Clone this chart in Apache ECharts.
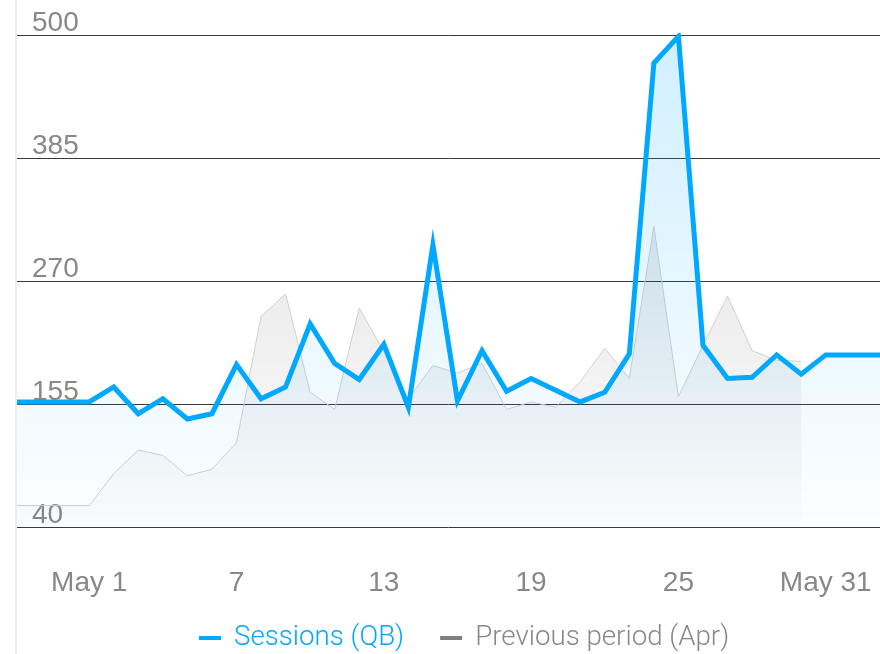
<!DOCTYPE html>
<html>
<head>
<meta charset="utf-8">
<title>Sessions (QB) – May</title>
<script src="https://cdn.jsdelivr.net/npm/echarts@6/dist/echarts.min.js"></script>
<style>
  html, body { margin: 0; padding: 0; background: #fff; }
  #wrap { position: relative; width: 880px; height: 654px; overflow: hidden; }
  #edge { position: absolute; left: 15px; top: 0; width: 2px; height: 654px; background: #ececec; }
  #chart { position: absolute; left: 0; top: 0; width: 880px; height: 654px; }
</style>
</head>
<body>
<div id="wrap">
  <div id="edge"></div>
  <div id="chart"></div>
</div>
<script>
// Day of month for each point (May 1 .. May 31)
const days = [1,2,3,4,5,6,7,8,9,10,11,12,13,14,15,16,17,18,19,20,21,22,23,24,25,26,27,28,29,30,31];

// Daily sessions, May
const sessions = [157,171,146,160,141,146,192,160,171,230,193,178,211,152,304,158,205,167,179,168,157,166,202,474,499,210,179,180,201,183,201];

// Daily sessions, previous period (April, 30 days)
const previous = [60,90,112,107,88,94,119,237,258,166,150,245,204,160,191,184,193,150,157,152,176,207,179,321,162,210,256,205,196,195];

// Axis ticks
const xTickDays = [1, 7, 13, 19, 25, 31];
const xTickLabels = ['May 1', '7', '13', '19', '25', 'May 31'];
const yTicks = [40, 155, 270, 385, 500];

const seriesNames = ['Sessions (QB)', 'Previous period (Apr)'];

// The plot runs a little past the first and last day on each side
const xMin = 1 - 2.94;
const xMax = 31 + 2.21;

const BLUE = '#00a8ff';
const GREY_TEXT = '#888888';

// Each line is held flat out to the plot edges
const sessionData = [[xMin, sessions[0]]]
  .concat(days.map((d, i) => [d, sessions[i]]))
  .concat([[xMax, sessions[sessions.length - 1]]]);

const previousData = [[xMin, previous[0]]]
  .concat(previous.map((v, i) => [days[i], v]));

const chart = echarts.init(document.getElementById('chart'), null, { renderer: 'canvas' });

chart.setOption({
  animation: false,
  grid: { left: 17, right: 0, top: 35.3, bottom: 127, containLabel: false },
  xAxis: {
    type: 'value',
    min: xMin,
    max: xMax,
    axisLine: { show: false },
    axisTick: { show: false },
    splitLine: { show: false },
    axisLabel: {
      customValues: xTickDays,
      margin: 42,
      color: GREY_TEXT,
      fontFamily: 'Liberation Sans, Arial, sans-serif',
      fontSize: 28,
      formatter: (v) => xTickLabels[xTickDays.indexOf(Math.round(v))] || ''
    }
  },
  yAxis: {
    type: 'value',
    min: yTicks[0],
    max: yTicks[yTicks.length - 1],
    interval: yTicks[1] - yTicks[0],
    axisLine: { show: false },
    axisTick: { show: false },
    splitLine: { show: true, lineStyle: { color: '#3a3a3a', width: 1 } },
    axisLabel: {
      inside: true,
      margin: 15,
      verticalAlign: 'bottom',
      color: GREY_TEXT,
      fontFamily: 'Liberation Sans, Arial, sans-serif',
      fontSize: 28,
      padding: [0, 0, -2, 0]
    }
  },
  legend: {
    left: 194,
    top: 619,
    icon: 'rect',
    itemWidth: 22,
    itemHeight: 4,
    itemGap: 36,
    textStyle: {
      fontFamily: 'Roboto, sans-serif',
      fontWeight: 300,
      fontSize: 27.7,
      padding: [0, 0, 0, 8]
    },
    data: [
      { name: seriesNames[0], itemStyle: { color: BLUE }, textStyle: { color: BLUE } },
      { name: seriesNames[1], itemStyle: { color: '#808080' }, textStyle: { color: GREY_TEXT } }
    ]
  },
  series: [
    {
      name: seriesNames[1],
      type: 'line',
      data: previousData,
      showSymbol: false,
      z: 1,
      lineStyle: { color: '#d0d0d0', width: 1 },
      itemStyle: { color: '#808080' },
      areaStyle: {
        origin: 'start',
        color: new echarts.graphic.LinearGradient(0, 0, 0, 1, [
          { offset: 0, color: 'rgba(0,0,0,0.13)' },
          { offset: 1, color: 'rgba(0,0,0,0.01)' }
        ])
      }
    },
    {
      name: seriesNames[0],
      type: 'line',
      data: sessionData,
      showSymbol: false,
      z: 3,
      lineStyle: { color: BLUE, width: 5, join: 'miter', miterLimit: 10 },
      itemStyle: { color: BLUE },
      areaStyle: {
        origin: 'start',
        color: new echarts.graphic.LinearGradient(0, 0, 0, 1, [
          { offset: 0, color: 'rgba(0,168,255,0.26)' },
          { offset: 1, color: 'rgba(0,168,255,0.02)' }
        ])
      }
    }
  ]
});
</script>
</body>
</html>
